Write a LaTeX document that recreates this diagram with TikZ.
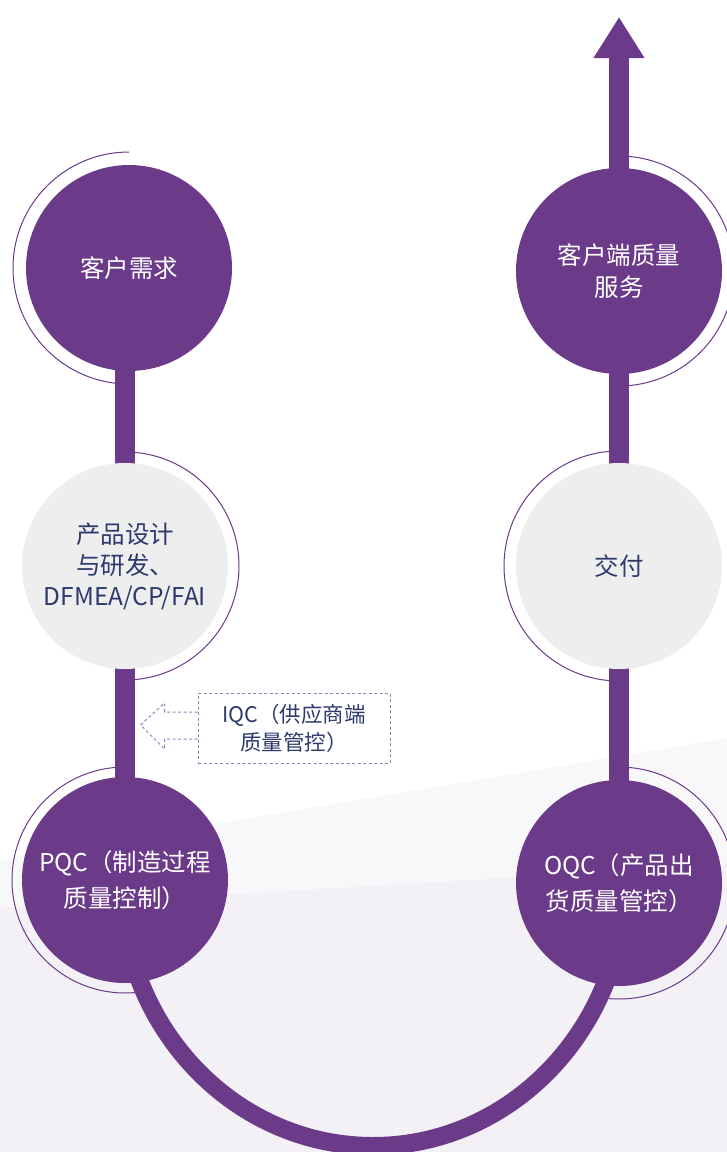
\documentclass[tikz,border=0pt]{standalone}
\usepackage{fontspec}
\setmainfont{Noto Sans CJK SC}
\usetikzlibrary{arrows.meta}
\definecolor{pur}{HTML}{6B3A89}
\definecolor{gry}{HTML}{EEEEEE}
\definecolor{navy}{HTML}{2E3A6E}
\definecolor{dashc}{HTML}{A07BBB}
\definecolor{bgA}{HTML}{F8F7FA}
\definecolor{bgB}{HTML}{F3F0F6}
\pgfdeclarelayer{back}
\pgfsetlayers{back,main}
\begin{document}
\begin{tikzpicture}[x=1pt,y=-1pt,
  pcirc/.style={circle, fill=pur, minimum size=206pt, inner sep=0pt, text=white, align=center, font=\fontsize{24.5}{32}\selectfont},
  gcirc/.style={circle, fill=gry, minimum size=206pt, inner sep=0pt, text=navy, align=center, font=\fontsize{24.5}{31}\selectfont},
  bar/.style={draw=pur, line width=20pt},
  ring/.style={draw=pur, line width=1pt},
  ustroke/.style={draw=pur, line width=18pt},
  dashline/.style={draw=dashc, line width=1pt, dash pattern=on 3pt off 2.5pt},
  iqcbox/.style={dashline, rectangle, minimum width=192pt, minimum height=70pt, inner sep=0pt, text=navy, align=center, font=\fontsize{21.5}{28}\selectfont}
]
\useasboundingbox (0,0) rectangle (727,1152);

\node[pcirc] (c1) at (129,268) {客户需求};
\node[gcirc] (c2) at (125,566) {产品设计\\与研发、\\DFMEA/CP/FAI};
\node[pcirc, font=\fontsize{24.5}{36}\selectfont] (c3) at (125,880) {PQC（制造过程\\质量控制）};
\node[pcirc, font=\fontsize{24.5}{36}\selectfont] (c4) at (619,883) {OQC（产品出\\货质量管控）};
\node[gcirc] (c5) at (619,566) {交付};
\node[pcirc] (c6) at (619,271) {客户端质量\\服务};
\node[iqcbox] (iqc) at (294,728) {IQC（供应商端\\质量管控）};
\coordinate (tipc) at (619,17);

\begin{pgfonlayer}{back}
  \fill[white] (0,0) rectangle (727,1152);
  \fill[bgA] (0,860) -- (727,738) -- (727,1152) -- (0,1152) -- cycle;
  \fill[bgB] (0,908) -- (727,865) -- (727,1152) -- (0,1152) -- cycle;
  % outer rings
  \draw[ring] (c1.center) ++(0,-116) arc[start angle=270, end angle=90, radius=116];
  \draw[ring] (c2.center) ++(0,-114) arc[start angle=-90, end angle=90, radius=114];
  \draw[ring] (c3.center) ++(0,-113) arc[start angle=270, end angle=85, radius=113];
  \draw[ring] (c4.center) ++(0,-116) arc[start angle=-90, end angle=95, radius=116];
  \draw[ring] (c5.center) ++(0,-115) arc[start angle=270, end angle=90, radius=115];
  \draw[ring] (c6.center) ++(0,-115) arc[start angle=-90, end angle=90, radius=115];
  % bars
  \draw[bar] (c2.center) -- (c2.center |- c1.center);
  \draw[bar] (c2.center) -- (c3.center);
  \draw[bar] (c4.center) -- (c5.center);
  \draw[bar] (c5.center) -- (c6.center);
  \draw[bar, -{Triangle[width=48pt,length=41pt]}] (c6.center) -- (tipc);
  % bottom U
  \draw[ustroke] (c3.center) ++(-4,0) arc[start angle=180, end angle=0, x radius=252, y radius=266];
\end{pgfonlayer}

% IQC dashed outline arrow
\draw[dashline, line join=miter] (iqc.west) ++(0,-16) -- ++(-33,0) -- ++(0,-9) -- ++(-24,22) -- ++(24,24) -- ++(0,-10) -- ++(33,0);
\end{tikzpicture}
\end{document}
